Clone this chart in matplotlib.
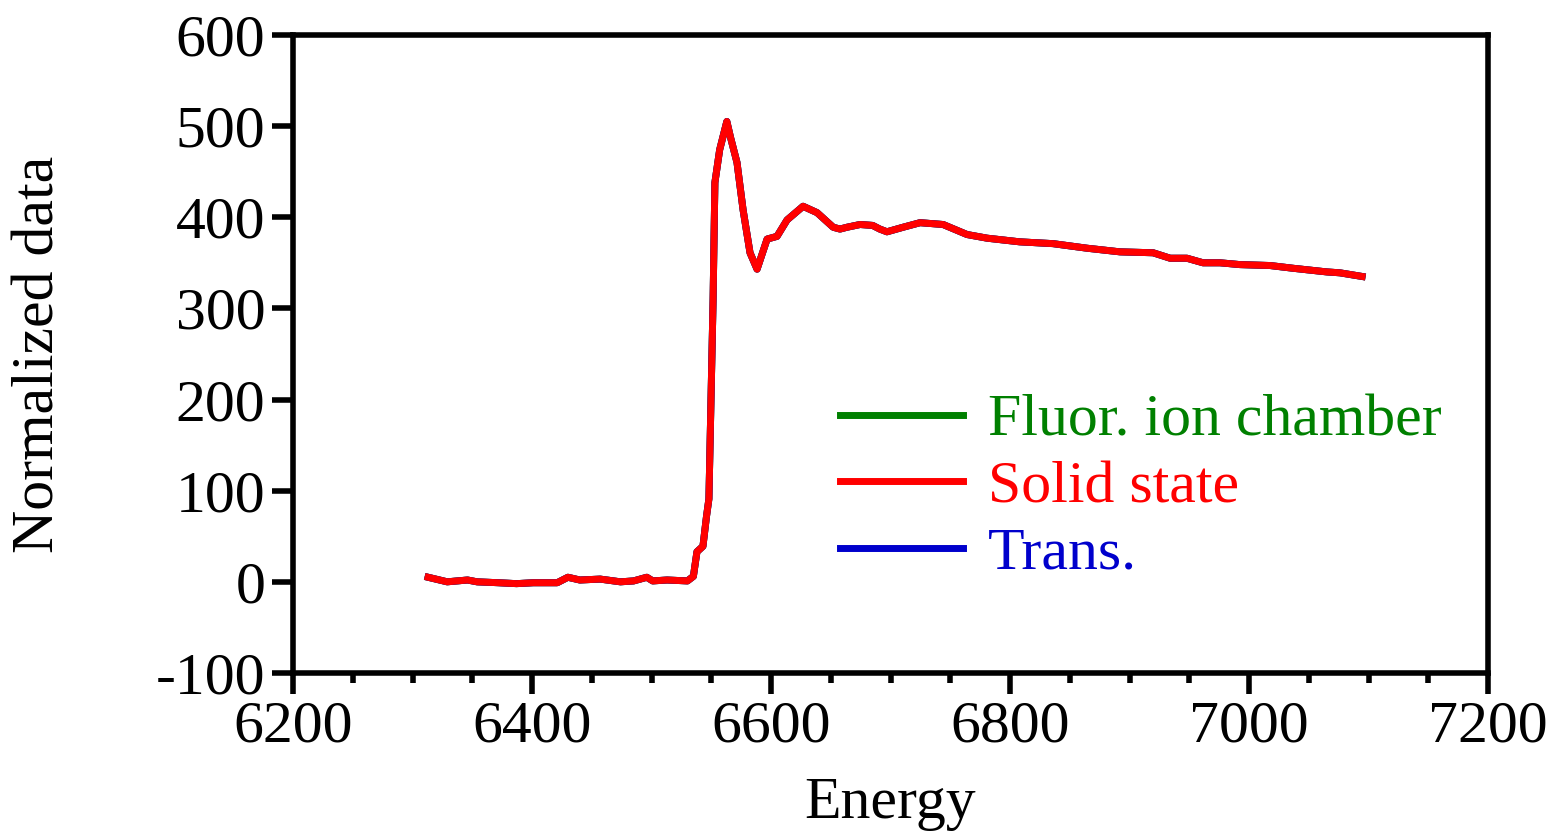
import matplotlib
matplotlib.use("Agg")
import matplotlib.pyplot as plt
from matplotlib.ticker import MultipleLocator
import numpy as np

plt.rcParams['font.family'] = ['Liberation Serif', 'DejaVu Serif']
plt.rcParams['axes.unicode_minus'] = False

energy = [6313, 6329, 6346, 6354, 6372, 6387, 6401, 6421, 6430, 6440, 6457, 6474,
          6485, 6496, 6501, 6513, 6530, 6535, 6538, 6543, 6546, 6548, 6551.5, 6553,
          6557, 6563, 6566, 6571.5, 6576.6, 6582.4, 6588.3, 6596.7, 6605, 6613.4,
          6626.8, 6638.5, 6652, 6657.7, 6663.6, 6674.5, 6685, 6691, 6697, 6710.5,
          6724.7, 6744, 6764, 6780.8, 6808, 6836, 6864.4, 6892, 6919.7, 6934, 6948,
          6961.5, 6975.7, 6992.5, 7017.6, 7036.8, 7065, 7076, 7094.6]
solid = [5, 0, 2, 0, -1, -2, -1, -1, 5, 2, 3, 0,
         1, 5, 1, 2, 1, 6, 33, 39, 72, 91, 310, 438,
         474, 505, 488, 460, 408, 361, 343, 376, 379, 397,
         412, 405, 389, 387, 389, 392, 391, 387, 384, 389,
         394, 392, 381, 377, 373, 371, 366, 362, 361, 355, 355,
         350, 350, 348, 347, 344, 340, 339, 335]
fluor = list(solid)
trans = list(solid)

fig = plt.figure(figsize=(15.58, 8.33), dpi=100)
ax = fig.add_axes([0.1881, 0.1921, 0.7670, 0.7660])

ax.plot(energy, fluor, color='#008000', lw=5, label='Fluor. ion chamber', zorder=2)
ax.plot(energy, solid, color='#ff0000', lw=5, label='Solid state', zorder=4)
ax.plot(energy, trans, color='#0000cc', lw=5, label='Trans.', zorder=3)

ax.set_xlim(6200, 7200)
ax.set_ylim(-100, 600)
ax.xaxis.set_major_locator(MultipleLocator(200))
ax.xaxis.set_minor_locator(MultipleLocator(50))
ax.yaxis.set_major_locator(MultipleLocator(100))

for s in ax.spines.values():
    s.set_linewidth(4)
ax.tick_params(which='major', direction='out', length=15, width=4, labelsize=43, pad=5)
ax.tick_params(which='minor', direction='out', length=7, width=4)
ax.tick_params(top=False, right=False)

ax.set_xlabel('Energy', fontsize=43, labelpad=16)
ax.set_ylabel('Normalized data', fontsize=43, labelpad=64)

handles, labels = ax.get_legend_handles_labels()
leg = ax.legend(handles, labels, loc='upper left', bbox_to_anchor=(0.413, 0.522),
                frameon=False, fontsize=43, handlelength=2.05, handletextpad=0.42,
                labelspacing=0.2, labelcolor='linecolor')

fig.savefig('out.png', dpi=100)
